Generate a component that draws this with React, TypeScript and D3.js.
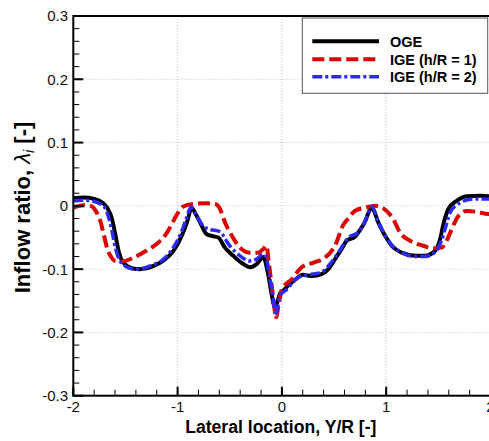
import React from "react";
import * as d3 from "d3";

const W = 489;
const H = 441;

const xTicks = [-2, -1, 0, 1, 2];
const yTicks = [-0.3, -0.2, -0.1, 0, 0.1, 0.2, 0.3];
const yTickLabels = ["-0.3", "-0.2", "-0.1", "0", "0.1", "0.2", "0.3"];
const xTickLabels = ["-2", "-1", "0", "1", "2"];

const seriesNames = ["OGE", "IGE (h/R = 1)", "IGE (h/R = 2)"];

const oge: [number, number][] = [
  [-2.0, 0.012], [-1.9, 0.013], [-1.8, 0.011], [-1.72, 0.005], [-1.675, -0.003],
  [-1.63, -0.02], [-1.595, -0.047], [-1.562, -0.074], [-1.535, -0.086], [-1.5, -0.093],
  [-1.43, -0.099], [-1.36, -0.1], [-1.23, -0.095], [-1.14, -0.087], [-1.04, -0.071],
  [-0.96, -0.047], [-0.91, -0.026], [-0.865, -0.003], [-0.83, -0.012], [-0.785, -0.026],
  [-0.72, -0.045], [-0.66, -0.048], [-0.61, -0.05], [-0.546, -0.066], [-0.466, -0.079],
  [-0.37, -0.092], [-0.306, -0.097], [-0.242, -0.092], [-0.178, -0.081], [-0.13, -0.11],
  [-0.098, -0.14], [-0.075, -0.157], [-0.06, -0.158], [-0.04, -0.15], [-0.016, -0.138],
  [0.0, -0.136], [0.06, -0.126], [0.14, -0.115], [0.2, -0.109], [0.29, -0.111],
  [0.38, -0.108], [0.445, -0.1], [0.51, -0.084], [0.573, -0.068], [0.621, -0.055],
  [0.7, -0.049], [0.75, -0.038], [0.8, -0.024], [0.83, -0.011], [0.862, -0.003],
  [0.924, -0.026], [0.988, -0.047], [1.053, -0.063], [1.15, -0.074], [1.28, -0.079],
  [1.37, -0.079], [1.468, -0.071], [1.516, -0.053], [1.55, -0.028], [1.596, -0.005],
  [1.676, 0.008], [1.77, 0.015], [1.9, 0.016], [2.0, 0.015],
];

const ige1: [number, number][] = [
  [-2.0, -0.003], [-1.9, 0.001], [-1.834, 0.0], [-1.785, -0.008], [-1.737, -0.026],
  [-1.706, -0.047], [-1.67, -0.07], [-1.64, -0.08], [-1.6, -0.087], [-1.536, -0.088],
  [-1.425, -0.082], [-1.3, -0.071], [-1.2, -0.06], [-1.1, -0.042], [-1.05, -0.027],
  [-1.0, -0.012], [-0.945, -0.001], [-0.85, 0.003], [-0.72, 0.004], [-0.64, 0.003],
  [-0.593, -0.005], [-0.546, -0.026], [-0.481, -0.047], [-0.402, -0.066], [-0.306, -0.074],
  [-0.226, -0.074], [-0.178, -0.068], [-0.146, -0.063], [-0.13, -0.084], [-0.098, -0.126],
  [-0.066, -0.168], [-0.055, -0.176], [-0.03, -0.155], [0.0, -0.132], [0.094, -0.116],
  [0.19, -0.097], [0.317, -0.089], [0.413, -0.082], [0.509, -0.063], [0.589, -0.03],
  [0.637, -0.02], [0.7, -0.008], [0.797, -0.003], [0.893, 0.0], [0.972, -0.004],
  [1.068, -0.021], [1.132, -0.042], [1.228, -0.055], [1.356, -0.063], [1.452, -0.067],
  [1.532, -0.066], [1.58, -0.055], [1.628, -0.037], [1.692, -0.016], [1.772, -0.008],
  [1.868, -0.0095], [1.98, -0.013], [2.0, -0.013],
];

const ige2: [number, number][] = [
  [-2.0, 0.008], [-1.9, 0.009], [-1.8, 0.007], [-1.73, 0.002], [-1.69, -0.005],
  [-1.64, -0.032], [-1.594, -0.068], [-1.56, -0.085], [-1.52, -0.093], [-1.45, -0.099],
  [-1.38, -0.1], [-1.25, -0.094], [-1.14, -0.085], [-1.05, -0.068], [-0.97, -0.044],
  [-0.92, -0.022], [-0.87, -0.002], [-0.82, -0.015], [-0.754, -0.032], [-0.69, -0.037],
  [-0.593, -0.041], [-0.514, -0.06], [-0.402, -0.079], [-0.306, -0.087], [-0.242, -0.084],
  [-0.178, -0.076], [-0.146, -0.084], [-0.114, -0.116], [-0.082, -0.147], [-0.062, -0.173],
  [-0.04, -0.16], [-0.018, -0.142], [0.046, -0.132], [0.157, -0.113], [0.286, -0.108],
  [0.382, -0.105], [0.445, -0.095], [0.541, -0.074], [0.637, -0.05], [0.733, -0.042],
  [0.797, -0.024], [0.862, -0.002], [0.924, -0.025], [0.988, -0.046], [1.053, -0.062],
  [1.15, -0.074], [1.28, -0.08], [1.37, -0.08], [1.47, -0.073], [1.53, -0.055],
  [1.564, -0.037], [1.612, -0.011], [1.708, 0.005], [1.835, 0.011], [2.0, 0.011],
];

const L = 73.3, R = 490.5, T = 16, B = 395.7;

export default function App() {
  const x = d3.scaleLinear().domain([-2, 2]).range([L, R]);
  const y = d3.scaleLinear().domain([-0.3, 0.3]).range([B, T]);
  const line = d3
    .line<[number, number]>()
    .x((d) => x(d[0]))
    .y((d) => y(d[1]))
    .curve(d3.curveMonotoneX);

  const xMinor = d3.range(-2, 2.0001, 0.2).map((v) => Math.round(v * 10) / 10);
  const yMinor = d3.range(-0.3, 0.30001, 0.02).map((v) => Math.round(v * 100) / 100);

  const styles = [
    { stroke: "#000000", width: 4, dash: "none" },
    { stroke: "#dd0000", width: 4, dash: "12,5" },
    { stroke: "#2a2aff", width: 3.5, dash: "10,3,3,3" },
  ];
  const data = [oge, ige1, ige2];
  const font = "'Liberation Sans', Arial, sans-serif";

  return (
    <svg
      width={W}
      height={H}
      style={{ position: "absolute", left: 0, top: 0, background: "#fff" }}
      fontFamily={font}
    >
      <defs>
        <clipPath id="plot">
          <rect x={L} y={T} width={R - L} height={B - T} />
        </clipPath>
      </defs>
      <rect x={0} y={0} width={W} height={H} fill="#fff" />
      {xTicks.slice(1, -1).map((v) => (
        <line key={"gx" + v} x1={x(v)} x2={x(v)} y1={T} y2={B} stroke="#c4c4c4" strokeWidth={1} strokeDasharray="1,2" />
      ))}
      {yTicks.slice(1, -1).map((v) => (
        <line key={"gy" + v} x1={L} x2={R} y1={y(v)} y2={y(v)} stroke="#c4c4c4" strokeWidth={1} strokeDasharray="1,2" />
      ))}
      <g clipPath="url(#plot)">
        {data.map((d, i) => (
          <path
            key={i}
            d={line(d) || ""}
            fill="none"
            stroke={styles[i].stroke}
            strokeWidth={styles[i].width}
            strokeDasharray={styles[i].dash}
            strokeLinejoin="round"
          />
        ))}
      </g>
      {xMinor.map((v) => (
        <line key={"xm" + v} x1={x(v)} x2={x(v)} y1={B} y2={B - 6} stroke="#000" strokeWidth={1} />
      ))}
      {yMinor.map((v) => (
        <line key={"ym" + v} x1={L} x2={L + 6} y1={y(v)} y2={y(v)} stroke="#000" strokeWidth={1} />
      ))}
      {xTicks.map((v) => (
        <line key={"xM" + v} x1={x(v)} x2={x(v)} y1={B} y2={B - 9} stroke="#000" strokeWidth={2} />
      ))}
      {yTicks.map((v) => (
        <line key={"yM" + v} x1={L} x2={L + 10} y1={y(v)} y2={y(v)} stroke="#000" strokeWidth={2} />
      ))}
      <rect x={L} y={T} width={R - L} height={B - T} fill="none" stroke="#000" strokeWidth={2} />
      {yTicks.map((v, i) => (
        <text key={"yl" + v} x={68} y={y(v)} dy="0.36em" textAnchor="end" fontSize={15} fill="#111">
          {yTickLabels[i]}
        </text>
      ))}
      {xTicks.map((v, i) => (
        <text key={"xl" + v} x={x(v)} y={412} textAnchor="middle" fontSize={15} fill="#111">
          {xTickLabels[i]}
        </text>
      ))}
      <text x={280.8} y={433} textAnchor="middle" fontSize={17.6} fontWeight="bold" fill="#000">
        Lateral location, Y/R [-]
      </text>
      <text
        transform="translate(30,207.5) rotate(-90)"
        textAnchor="middle"
        fontSize={22}
        fontWeight="bold"
        fill="#000"
      >
        <tspan>Inflow ratio, </tspan>
        <tspan fontWeight="normal" fontStyle="italic">λ</tspan>
        <tspan fontWeight="normal" fontStyle="italic" fontSize={14} dy={4}>i</tspan>
        <tspan dy={-4}> [-]</tspan>
      </text>
      <rect x={302.3} y={18} width={185.4} height={75.3} fill="#fff" stroke="#555" strokeWidth={1} />
      {seriesNames.map((name, i) => {
        const ly = [41.3, 59.3, 76.7][i];
        return (
          <g key={name}>
            <line
              x1={312.3}
              x2={379}
              y1={ly}
              y2={ly}
              stroke={styles[i].stroke}
              strokeWidth={styles[i].width}
              strokeDasharray={styles[i].dash}
            />
            <text x={390} y={ly} dy="0.36em" fontSize={14.5} fontWeight="bold" fill="#000">
              {name}
            </text>
          </g>
        );
      })}
    </svg>
  );
}
